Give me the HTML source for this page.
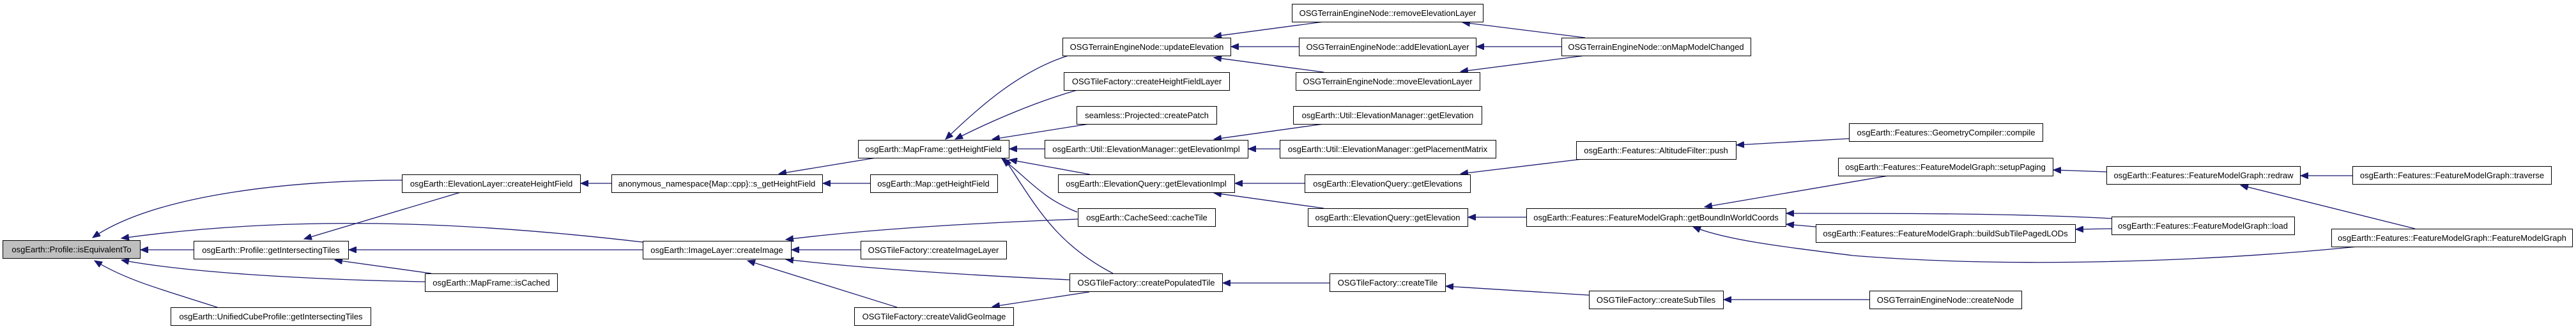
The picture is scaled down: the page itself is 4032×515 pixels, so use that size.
<!DOCTYPE html>
<html><head><meta charset="utf-8"><style>
html,body{margin:0;padding:0;background:#fff;}
svg{display:block;}
text{font-family:"Liberation Sans",Arial,sans-serif;font-size:13px;fill:#000;}
.n{fill:#fff;stroke:#000;stroke-width:1;}
.e{fill:none;stroke:#191970;stroke-width:1.3;}
</style></head><body>
<svg width="4032" height="515" viewBox="0 0 4032 515" xmlns="http://www.w3.org/2000/svg">
<defs>
<marker id="a" markerUnits="userSpaceOnUse" markerWidth="14" markerHeight="10" refX="12" refY="5" orient="auto">
<path d="M0,0 L12,5 L0,10 z" fill="#191970" stroke="#191970"/>
</marker>
</defs>
<g marker-end="url(#a)">
<path class="e" d="M629,282 C480,282 250,300 145,372"/>
<path class="e" d="M1006,379 C800,355 500,330 190,373"/>
<path class="e" d="M303,391 L220,391"/>
<path class="e" d="M665,441 C500,438 300,428 190,407"/>
<path class="e" d="M340,481 C260,455 200,440 148,408"/>
<path class="e" d="M721,301 L476,374"/>
<path class="e" d="M1006,391 L546,391"/>
<path class="e" d="M675,428 L524,407"/>
<path class="e" d="M957,287 L909,287"/>
<path class="e" d="M1371,247 L1219,272"/>
<path class="e" d="M1672,87 C1600,110 1540,160 1480,218"/>
<path class="e" d="M1686,141 C1620,160 1550,190 1495,218"/>
<path class="e" d="M1705,194 L1553,218"/>
<path class="e" d="M1635,233 L1580,233"/>
<path class="e" d="M1706,273 L1580,250"/>
<path class="e" d="M1686,332 C1630,310 1610,280 1568,248"/>
<path class="e" d="M1742,428 C1650,380 1620,320 1572,248"/>
<path class="e" d="M1362,287 L1288,287"/>
<path class="e" d="M1687,343 C1500,350 1350,360 1230,375"/>
<path class="e" d="M1347,391 L1239,391"/>
<path class="e" d="M1674,438 C1500,430 1350,420 1230,406"/>
<path class="e" d="M1404,481 L1170,408"/>
<path class="e" d="M1705,457 L1553,480"/>
<path class="e" d="M2072,34 L1900,57"/>
<path class="e" d="M2033,73 L1927,73"/>
<path class="e" d="M2072,113 L1900,90"/>
<path class="e" d="M2481,59 L2289,35"/>
<path class="e" d="M2444,73 L2311,73"/>
<path class="e" d="M2481,87 L2286,112"/>
<path class="e" d="M2072,194 L1900,218"/>
<path class="e" d="M2003,233 L1954,233"/>
<path class="e" d="M2042,287 L1933,287"/>
<path class="e" d="M2072,326 L1900,302"/>
<path class="e" d="M2477,249 L2286,272"/>
<path class="e" d="M2894,217 L2718,227"/>
<path class="e" d="M2297,340 L2297,340"/>
<path class="e" d="M2389,340 L2298,340"/>
<path class="e" d="M2956,275 L2668,324"/>
<path class="e" d="M3305,342 C3150,334 3000,334 2796,334"/>
<path class="e" d="M2842,355 L2796,351"/>
<path class="e" d="M3690,386 C3450,410 3150,420 2900,400 C2780,385 2700,375 2650,355"/>
<path class="e" d="M3297,269 L3214,266"/>
<path class="e" d="M3682,275 L3601,275"/>
<path class="e" d="M3780,358 L3507,290"/>
<path class="e" d="M3305,358 L3249,359"/>
<path class="e" d="M2081,443 L1914,443"/>
<path class="e" d="M2487,462 L2263,448"/>
<path class="e" d="M2926,469 L2698,469"/>
</g>
<g>
<rect x="4.5" y="376.5" width="215" height="28" style="fill:#bfbfbf;stroke:#000"/><text x="112" y="395" text-anchor="middle">osgEarth::Profile::isEquivalentTo</text>
<rect class="n" x="629.5" y="273.5" width="279" height="28"/><text x="769" y="292" text-anchor="middle">osgEarth::ElevationLayer::createHeightField</text>
<rect class="n" x="303.5" y="377.5" width="242" height="28"/><text x="424" y="396" text-anchor="middle">osgEarth::Profile::getIntersectingTiles</text>
<rect class="n" x="665.5" y="428.5" width="207" height="28"/><text x="769" y="447" text-anchor="middle">osgEarth::MapFrame::isCached</text>
<rect class="n" x="267.5" y="481.5" width="313" height="28"/><text x="424" y="500" text-anchor="middle">osgEarth::UnifiedCubeProfile::getIntersectingTiles</text>
<rect class="n" x="957.5" y="273.5" width="330" height="28"/><text x="1122" y="292" text-anchor="middle">anonymous_namespace{Map::cpp}::s_getHeightField</text>
<rect class="n" x="1006.5" y="377.5" width="232" height="28"/><text x="1122" y="396" text-anchor="middle">osgEarth::ImageLayer::createImage</text>
<rect class="n" x="1663.5" y="59.5" width="263" height="28"/><text x="1795" y="78" text-anchor="middle">OSGTerrainEngineNode::updateElevation</text>
<rect class="n" x="1665.5" y="113.5" width="259" height="28"/><text x="1795" y="132" text-anchor="middle">OSGTileFactory::createHeightFieldLayer</text>
<rect class="n" x="1685.5" y="166.5" width="219" height="28"/><text x="1795" y="185" text-anchor="middle">seamless::Projected::createPatch</text>
<rect class="n" x="1343.5" y="219.5" width="236" height="28"/><text x="1461" y="238" text-anchor="middle">osgEarth::MapFrame::getHeightField</text>
<rect class="n" x="1635.5" y="219.5" width="318" height="28"/><text x="1794" y="238" text-anchor="middle">osgEarth::Util::ElevationManager::getElevationImpl</text>
<rect class="n" x="1362.5" y="273.5" width="199" height="28"/><text x="1461" y="292" text-anchor="middle">osgEarth::Map::getHeightField</text>
<rect class="n" x="1656.5" y="273.5" width="276" height="28"/><text x="1794" y="292" text-anchor="middle">osgEarth::ElevationQuery::getElevationImpl</text>
<rect class="n" x="1687.5" y="326.5" width="215" height="28"/><text x="1795" y="345" text-anchor="middle">osgEarth::CacheSeed::cacheTile</text>
<rect class="n" x="1347.5" y="377.5" width="228" height="28"/><text x="1461" y="396" text-anchor="middle">OSGTileFactory::createImageLayer</text>
<rect class="n" x="1674.5" y="428.5" width="239" height="28"/><text x="1794" y="447" text-anchor="middle">OSGTileFactory::createPopulatedTile</text>
<rect class="n" x="1337.5" y="481.5" width="249" height="28"/><text x="1462" y="500" text-anchor="middle">OSGTileFactory::createValidGeoImage</text>
<rect class="n" x="2022.5" y="6.5" width="299" height="28"/><text x="2172" y="25" text-anchor="middle">OSGTerrainEngineNode::removeElevationLayer</text>
<rect class="n" x="2033.5" y="59.5" width="277" height="28"/><text x="2172" y="78" text-anchor="middle">OSGTerrainEngineNode::addElevationLayer</text>
<rect class="n" x="2028.5" y="113.5" width="288" height="28"/><text x="2172" y="132" text-anchor="middle">OSGTerrainEngineNode::moveElevationLayer</text>
<rect class="n" x="2444.5" y="59.5" width="296" height="28"/><text x="2592" y="78" text-anchor="middle">OSGTerrainEngineNode::onMapModelChanged</text>
<rect class="n" x="2024.5" y="166.5" width="295" height="28"/><text x="2172" y="185" text-anchor="middle">osgEarth::Util::ElevationManager::getElevation</text>
<rect class="n" x="2003.5" y="219.5" width="338" height="28"/><text x="2172" y="238" text-anchor="middle">osgEarth::Util::ElevationManager::getPlacementMatrix</text>
<rect class="n" x="2467.5" y="221.5" width="250" height="28"/><text x="2592" y="240" text-anchor="middle">osgEarth::Features::AltitudeFilter::push</text>
<rect class="n" x="2894.5" y="193.5" width="303" height="28"/><text x="3046" y="212" text-anchor="middle">osgEarth::Features::GeometryCompiler::compile</text>
<rect class="n" x="2042.5" y="273.5" width="259" height="28"/><text x="2172" y="292" text-anchor="middle">osgEarth::ElevationQuery::getElevations</text>
<rect class="n" x="2877.5" y="247.5" width="336" height="28"/><text x="3045" y="266" text-anchor="middle">osgEarth::Features::FeatureModelGraph::setupPaging</text>
<rect class="n" x="2047.5" y="326.5" width="250" height="28"/><text x="2172" y="345" text-anchor="middle">osgEarth::ElevationQuery::getElevation</text>
<rect class="n" x="2389.5" y="326.5" width="406" height="28"/><text x="2592" y="345" text-anchor="middle">osgEarth::Features::FeatureModelGraph::getBoundInWorldCoords</text>
<rect class="n" x="2842.5" y="351.5" width="406" height="28"/><text x="3045" y="370" text-anchor="middle">osgEarth::Features::FeatureModelGraph::buildSubTilePagedLODs</text>
<rect class="n" x="2081.5" y="428.5" width="181" height="28"/><text x="2172" y="447" text-anchor="middle">OSGTileFactory::createTile</text>
<rect class="n" x="2487.5" y="455.5" width="210" height="28"/><text x="2592" y="474" text-anchor="middle">OSGTileFactory::createSubTiles</text>
<rect class="n" x="2926.5" y="455.5" width="238" height="28"/><text x="3045" y="474" text-anchor="middle">OSGTerrainEngineNode::createNode</text>
<rect class="n" x="3297.5" y="260.5" width="303" height="28"/><text x="3449" y="279" text-anchor="middle">osgEarth::Features::FeatureModelGraph::redraw</text>
<rect class="n" x="3682.5" y="260.5" width="311" height="28"/><text x="3838" y="279" text-anchor="middle">osgEarth::Features::FeatureModelGraph::traverse</text>
<rect class="n" x="3305.5" y="339.5" width="286" height="28"/><text x="3448" y="358" text-anchor="middle">osgEarth::Features::FeatureModelGraph::load</text>
<rect class="n" x="3649.5" y="358.5" width="377" height="28"/><text x="3838" y="377" text-anchor="middle">osgEarth::Features::FeatureModelGraph::FeatureModelGraph</text>
</g>
</svg>
</body></html>
